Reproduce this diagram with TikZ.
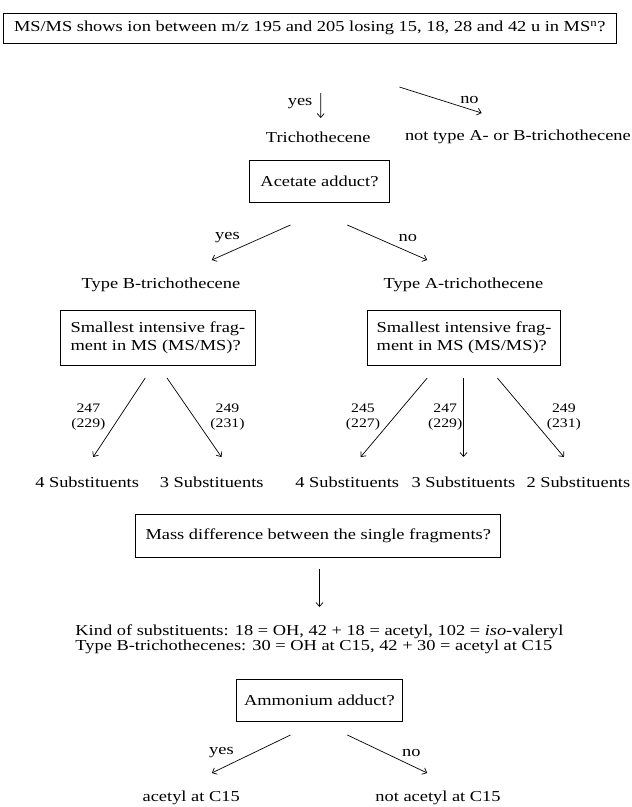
\documentclass[tikz,border=0pt]{standalone}
\usepackage{fontspec}
\setmainfont{Liberation Serif}
\usetikzlibrary{arrows.meta,calc}

\begin{document}
\begin{tikzpicture}[x=1pt,y=-1pt,xscale=1.21,transform shape,
  box/.style={draw,line width=0.9pt,inner sep=0pt,font=\fontsize{15.2}{18}\selectfont},
  txt/.style={inner sep=0pt,font=\fontsize{15.2}{15}\selectfont},
  mz/.style={inner sep=0pt,align=center,font=\fontsize{13}{15}\selectfont},
  arr/.style={-{Straight Barb[length=4pt,width=7pt]},line width=0.7pt}]
\useasboundingbox (0,0) rectangle (522.3,807);

\node[box,minimum width=507pt,minimum height=30pt] (ms) at (256,28)
  {MS/MS shows ion between m/z 195 and 205 losing 15, 18, 28 and 42 u in MS\textsuperscript{n}?};
\node[txt] (tri) at (263,137) {Trichothecene};
\node[txt] (nott) at (428,137) {not type A- or B-trichothecene};

\node[box,minimum width=115pt,minimum height=42pt] (acet) at (264,181) {Acetate adduct?};
\node[txt] (typeB) at (133,285) {Type B-trichothecene};
\node[txt] (typeA) at (383,285) {Type A-trichothecene};

\node[box,minimum width=161pt,minimum height=55pt,align=left] (smallB) at (130.5,337.5)
  {Smallest intensive frag-\\ment in MS (MS/MS)?};
\node[box,minimum width=159pt,minimum height=55pt,align=left] (smallA) at (383.5,337.5)
  {Smallest intensive frag-\\ment in MS (MS/MS)?};

\node[txt] (subB4) at (72,482) {4 Substituents};
\node[txt] (subB3) at (175,482) {3 Substituents};
\node[txt] (subA4) at (287,482) {4 Substituents};
\node[txt] (subA3) at (383,482) {3 Substituents};
\node[txt] (subA2) at (478,482) {2 Substituents};

\node[box,minimum width=302pt,minimum height=43pt] (mass) at (263,535.5)
  {Mass difference between the single fragments?};
\node[txt,align=left] (kind) at (264,639.5)
  {Kind of substituents: 18 = OH, 42 + 18 = acetyl, 102 = \textit{iso}-valeryl\\
   Type B-trichothecenes: 30 = OH at C15, 42 + 30 = acetyl at C15};

\node[box,minimum width=138pt,minimum height=42pt] (amm) at (264,700) {Ammonium adduct?};
\node[txt] (acyl) at (158,798) {acetyl at C15};
\node[txt] (nacyl) at (362,798) {not acetyl at C15};

\draw[arr] ($(ms)+(9,65)$) -- ($(tri)+(2,-19)$);
\draw[arr] ($(ms)+(74,59)$) -- ($(nott)+(-30,-24)$);
\node[txt] (ms-yes) at (248,104) {yes};
\node[txt] (ms-no) at (388,100) {no};

\draw[arr] ($(acet)+(-24,44)$) -- ($(typeB)+(42,-25)$);
\draw[arr] ($(acet)+(23,44)$) -- ($(typeA)+(-30,-25)$);
\node[txt] (acet-yes) at (188,238) {yes};
\node[txt] (acet-no) at (337,238) {no};

\draw[arr] ($(smallB)+(-10.5,40.5)$) -- ($(subB4)+(5,-25)$);
\draw[arr] ($(smallB)+(7.5,40.5)$) -- ($(subB3)+(8,-25)$);
\draw[arr] ($(smallA)+(-30.5,40.5)$) -- ($(subA4)+(11,-25)$);
\draw[arr] ($(smallA)+(-0.5,40.5)$) -- ($(subA3)+(0,-25)$);
\draw[arr] ($(smallA)+(27.5,40.5)$) -- ($(subA2)+(-12,-25)$);
\node[mz] (mzB4) at (73,417) {247\\(229)};
\node[mz] (mzB3) at (188,417) {249\\(231)};
\node[mz] (mzA4) at (300,417) {245\\(227)};
\node[mz] (mzA3) at (368,417) {247\\(229)};
\node[mz] (mzA2) at (466,417) {249\\(231)};

\draw[arr] ($(mass)+(1,33.5)$) -- ($(kind)+(0,-32.5)$);

\draw[arr] ($(amm)+(-24,35)$) -- ($(acyl)+(17,-25)$);
\draw[arr] ($(amm)+(23,35)$) -- ($(nacyl)+(-9,-25)$);
\node[txt] (amm-yes) at (183,753) {yes};
\node[txt] (amm-no) at (340,753) {no};
\end{tikzpicture}
\end{document}
